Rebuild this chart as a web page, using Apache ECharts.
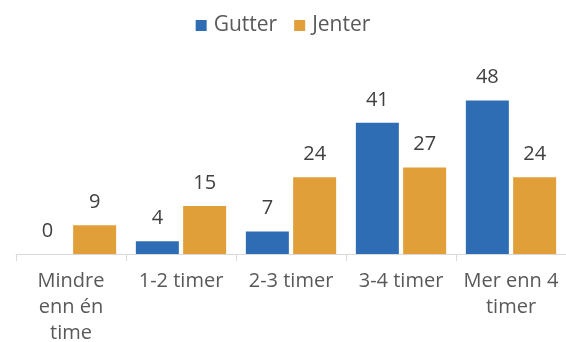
<!DOCTYPE html>
<html><head><meta charset="utf-8">
<script src="https://cdn.jsdelivr.net/npm/echarts@6/dist/echarts.min.js"></script>
<style>html,body{margin:0;padding:0;background:#fff}#c{width:566px;height:342px}</style>
</head><body><div id="c"></div>
<script>
const categories = ["Mindre\nenn én\ntime", "1-2 timer", "2-3 timer", "3-4 timer", "Mer enn 4\ntimer"];
const gutter = [0, 4, 7, 41, 48];
const jenter = [9, 15, 24, 27, 24];
const seriesNames = ["Gutter", "Jenter"];
const FONT = "Open Sans";
const chart = echarts.init(document.getElementById('c'), null, {renderer: 'canvas'});
const labelStyle = {show: true, position: 'top', distance: 13, fontSize: 20, color: '#404040', fontFamily: FONT};
chart.setOption({
  animation: false,
  textStyle: {fontFamily: FONT},
  legend: {
    top: 10, left: 'center', itemWidth: 11, itemHeight: 11, itemGap: 17,
    icon: 'rect',
    textStyle: {fontSize: 21, color: '#595959', fontFamily: FONT, padding: [0, 0, 0, 2]},
    data: seriesNames
  },
  grid: {left: 16, right: 0, top: 62, bottom: 88, containLabel: false, outerBoundsMode: 'none'},
  xAxis: {
    type: 'category', data: categories,
    axisLine: {lineStyle: {color: '#d9d9d9', width: 1}},
    axisTick: {show: true, length: 7, lineStyle: {color: '#d9d9d9'}},
    axisLabel: {fontSize: 20, color: '#595959', fontFamily: FONT, margin: 14, lineHeight: 26, interval: 0}
  },
  yAxis: {type: 'value', min: 0, max: 60, show: false, splitLine: {show: false}},
  series: [
    {name: seriesNames[0], type: 'bar', data: gutter, barWidth: 43, barGap: '10%',
     itemStyle: {color: '#2e6db4'}, label: labelStyle},
    {name: seriesNames[1], type: 'bar', data: jenter, barWidth: 43,
     itemStyle: {color: '#e09f38'}, label: labelStyle}
  ]
});
</script></body></html>
